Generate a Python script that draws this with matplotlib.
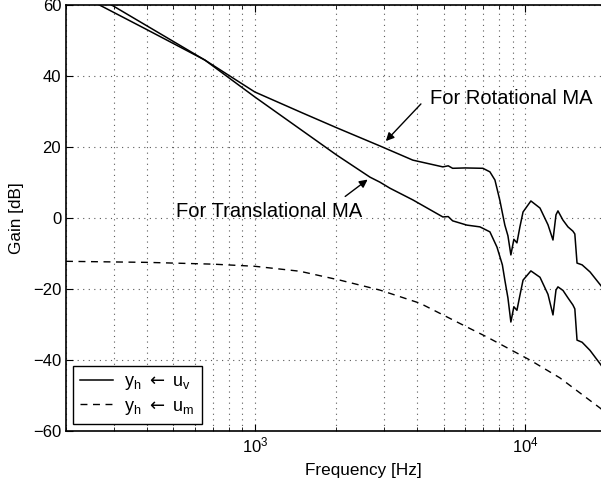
import numpy as np
import matplotlib
matplotlib.use("Agg")
import matplotlib.pyplot as plt

plt.rcParams['font.family'] = ['Liberation Sans', 'DejaVu Sans']

# y_h <- u_v, rotational MA
f_rot = [200, 266, 400, 653, 1000, 1500, 2012, 2904, 3846, 4966, 5200, 5400, 6000,
         6990, 7418, 7743, 8073, 8426, 8650, 8870, 9100, 9340, 9580, 9840, 10520,
         11370, 12170, 12700, 13030, 13250, 13830, 14430, 15050, 15300, 15590,
         16280, 17420, 18950, 20000]
g_rot = [65, 60, 53, 44.5, 35.5, 29.6, 25.4, 20.3, 16.3, 14.4, 14.7, 14.0, 14.1,
         14.0, 13.0, 10.7, 5, -2, -5, -10.4, -6, -7, -2.5, 1.7, 4.8,
         2.8, -1.9, -6.2, 0.9, 2.0, -0.6, -2.5, -3.7, -4.5, -12.7,
         -13.2, -15.2, -18.7, -21]

# y_h <- u_v, translational MA
f_tra = [200, 295, 653, 1000, 2012, 2670, 2904, 3163, 3846, 4966, 5200, 5400, 6095,
         6812, 7418, 7880, 8250, 8426, 8650, 8870, 9100, 9340, 9580, 9840, 10520,
         11370, 12170, 12700, 13030, 13250, 13830, 14430, 15050, 15300, 15590,
         16280, 17420, 18950, 20000]
g_tra = [67.6, 60, 44.5, 34.1, 17.7, 11.5, 10.1, 8.4, 5.1, 0.3, 0.4, -0.8, -2.0,
         -2.5, -3.9, -8.2, -13.2, -17.5, -22.5, -29.3, -25, -26, -21.8, -17.5, -14.9,
         -16.7, -21.5, -27.3, -20.3, -19.4, -20.4, -22.5, -24.5, -25.6, -34.4,
         -35, -37.3, -41, -43.5]

# y_h <- u_m
f_um = [200, 400, 700, 1000, 1468, 2065, 2904, 4084, 6095, 7226, 10430, 13450, 18950, 20000]
g_um = [-12.2, -12.5, -13.0, -13.6, -15, -17.5, -20.3, -24, -30.7, -33.5, -40, -45, -53.5, -55]

fig = plt.figure(figsize=(6.01, 4.86), dpi=100)
# the plot box runs past the right edge of the picture (cropped)
ax = fig.add_axes([66/601, 55/486, 594/601, 426/486])

ax.semilogx(f_rot, g_rot, 'k-', lw=1.1, label=r'y$_\mathregular{h}$ $\leftarrow$ u$_\mathregular{v}$')
ax.semilogx(f_tra, g_tra, 'k-', lw=1.1)
ax.semilogx(f_um, g_um, 'k--', lw=1.0, dashes=(5, 4), label=r'y$_\mathregular{h}$ $\leftarrow$ u$_\mathregular{m}$')

ax.set_xlim(200, 10**4.5)
ax.set_ylim(-60, 60)
ax.set_yticks(np.arange(-60, 61, 20))
ax.grid(True, which='major', ls=(0, (1, 4)), color='0.35', lw=0.8)
ax.grid(True, which='minor', axis='x', ls=(0, (1, 4)), color='0.35', lw=0.8)
ax.tick_params(which='both', direction='in', top=True, right=True, labelsize=12)
ax.tick_params(which='major', length=5)
ax.tick_params(which='minor', length=3)
for s in ax.spines.values():
    s.set_linewidth(1.2)

ax.set_xlabel('Frequency [Hz]', fontsize=12.3, labelpad=5)
ax.set_ylabel('Gain [dB]', fontsize=12.3, labelpad=6.5)

ax.annotate('', xy=(3006, 21.1), xytext=(4188, 32.7),
            arrowprops=dict(arrowstyle='-|>', color='k', lw=1.0, mutation_scale=12))
ax.text(4446, 33.8, 'For Rotational MA', fontsize=14.5, ha='left', va='center')
ax.annotate('', xy=(2666, 11.3), xytext=(2120, 5.6),
            arrowprops=dict(arrowstyle='-|>', color='k', lw=1.0, mutation_scale=12))
ax.text(509, 1.7, 'For Translational MA', fontsize=14.5, ha='left', va='center')

leg = ax.legend(loc='lower left', fontsize=13, fancybox=False, framealpha=1,
                edgecolor='k', borderaxespad=0.4, handlelength=1.8, handletextpad=0.6,
                labelspacing=0.3)
leg.get_frame().set_linewidth(1.0)

fig.savefig('out.png', dpi=100)
